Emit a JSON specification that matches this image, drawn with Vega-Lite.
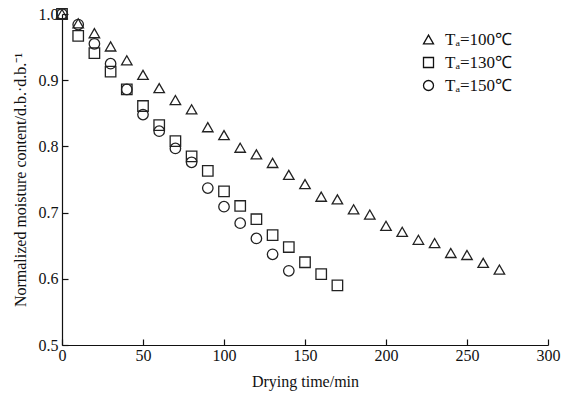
{
  "$schema": "https://vega.github.io/schema/vega-lite/v6.json",
  "width": 486,
  "height": 331,
  "autosize": {"type": "none"},
  "padding": {"left": 62, "top": 14, "right": 16, "bottom": 55},
  "background": "white",
  "config": {
    "view": {"stroke": null},
    "font": "Liberation Serif",
    "axis": {"grid": false, "domainColor": "#111", "tickColor": "#111", "labelColor": "#111", "titleColor": "#111", "labelFont": "Liberation Serif", "titleFont": "Liberation Serif", "labelFontSize": 16, "titleFontSize": 16, "titleFontWeight": "normal", "domainWidth": 1.2, "tickWidth": 1.2}
  },
  "data": {"values": [
    {"t": 0, "m": 1.0, "s": "Tₐ=100℃"},
    {"t": 10, "m": 0.986, "s": "Tₐ=100℃"},
    {"t": 20, "m": 0.971, "s": "Tₐ=100℃"},
    {"t": 30, "m": 0.951, "s": "Tₐ=100℃"},
    {"t": 40, "m": 0.930, "s": "Tₐ=100℃"},
    {"t": 50, "m": 0.908, "s": "Tₐ=100℃"},
    {"t": 60, "m": 0.888, "s": "Tₐ=100℃"},
    {"t": 70, "m": 0.870, "s": "Tₐ=100℃"},
    {"t": 80, "m": 0.856, "s": "Tₐ=100℃"},
    {"t": 90, "m": 0.829, "s": "Tₐ=100℃"},
    {"t": 100, "m": 0.817, "s": "Tₐ=100℃"},
    {"t": 110, "m": 0.798, "s": "Tₐ=100℃"},
    {"t": 120, "m": 0.788, "s": "Tₐ=100℃"},
    {"t": 130, "m": 0.775, "s": "Tₐ=100℃"},
    {"t": 140, "m": 0.757, "s": "Tₐ=100℃"},
    {"t": 150, "m": 0.743, "s": "Tₐ=100℃"},
    {"t": 160, "m": 0.724, "s": "Tₐ=100℃"},
    {"t": 170, "m": 0.720, "s": "Tₐ=100℃"},
    {"t": 180, "m": 0.705, "s": "Tₐ=100℃"},
    {"t": 190, "m": 0.697, "s": "Tₐ=100℃"},
    {"t": 200, "m": 0.680, "s": "Tₐ=100℃"},
    {"t": 210, "m": 0.671, "s": "Tₐ=100℃"},
    {"t": 220, "m": 0.659, "s": "Tₐ=100℃"},
    {"t": 230, "m": 0.654, "s": "Tₐ=100℃"},
    {"t": 240, "m": 0.639, "s": "Tₐ=100℃"},
    {"t": 250, "m": 0.636, "s": "Tₐ=100℃"},
    {"t": 260, "m": 0.624, "s": "Tₐ=100℃"},
    {"t": 270, "m": 0.614, "s": "Tₐ=100℃"},
    {"t": 0, "m": 1.0, "s": "Tₐ=130℃"},
    {"t": 10, "m": 0.967, "s": "Tₐ=130℃"},
    {"t": 20, "m": 0.941, "s": "Tₐ=130℃"},
    {"t": 30, "m": 0.913, "s": "Tₐ=130℃"},
    {"t": 40, "m": 0.886, "s": "Tₐ=130℃"},
    {"t": 50, "m": 0.861, "s": "Tₐ=130℃"},
    {"t": 60, "m": 0.832, "s": "Tₐ=130℃"},
    {"t": 70, "m": 0.808, "s": "Tₐ=130℃"},
    {"t": 80, "m": 0.785, "s": "Tₐ=130℃"},
    {"t": 90, "m": 0.763, "s": "Tₐ=130℃"},
    {"t": 100, "m": 0.732, "s": "Tₐ=130℃"},
    {"t": 110, "m": 0.710, "s": "Tₐ=130℃"},
    {"t": 120, "m": 0.690, "s": "Tₐ=130℃"},
    {"t": 130, "m": 0.666, "s": "Tₐ=130℃"},
    {"t": 140, "m": 0.648, "s": "Tₐ=130℃"},
    {"t": 150, "m": 0.625, "s": "Tₐ=130℃"},
    {"t": 160, "m": 0.607, "s": "Tₐ=130℃"},
    {"t": 170, "m": 0.590, "s": "Tₐ=130℃"},
    {"t": 0, "m": 1.0, "s": "Tₐ=150℃"},
    {"t": 10, "m": 0.984, "s": "Tₐ=150℃"},
    {"t": 20, "m": 0.955, "s": "Tₐ=150℃"},
    {"t": 30, "m": 0.925, "s": "Tₐ=150℃"},
    {"t": 40, "m": 0.886, "s": "Tₐ=150℃"},
    {"t": 50, "m": 0.848, "s": "Tₐ=150℃"},
    {"t": 60, "m": 0.823, "s": "Tₐ=150℃"},
    {"t": 70, "m": 0.797, "s": "Tₐ=150℃"},
    {"t": 80, "m": 0.776, "s": "Tₐ=150℃"},
    {"t": 90, "m": 0.737, "s": "Tₐ=150℃"},
    {"t": 100, "m": 0.709, "s": "Tₐ=150℃"},
    {"t": 110, "m": 0.684, "s": "Tₐ=150℃"},
    {"t": 120, "m": 0.661, "s": "Tₐ=150℃"},
    {"t": 130, "m": 0.637, "s": "Tₐ=150℃"},
    {"t": 140, "m": 0.612, "s": "Tₐ=150℃"}
  ]},
  "mark": {"type": "point", "filled": false, "strokeWidth": 1.3, "opacity": 1},
  "encoding": {
    "x": {"field": "t", "type": "quantitative", "scale": {"domain": [0, 300], "nice": false, "zero": true},
      "axis": {"values": [0, 50, 100, 150, 200, 250, 300], "title": "Drying time/min", "tickSize": -6, "labelPadding": 8, "titlePadding": 10, "labelFlush": false}},
    "y": {"field": "m", "type": "quantitative", "scale": {"domain": [0.5, 1.0], "nice": false, "zero": false},
      "axis": {"values": [0.5, 0.6, 0.7, 0.8, 0.9, 1.0], "format": ".1f", "title": "Normalized moisture content/d.b.·d.b.⁻¹", "tickSize": -6, "labelPadding": 10, "titlePadding": 10, "labelFlush": false}},
    "shape": {"field": "s", "type": "nominal",
      "scale": {"domain": ["Tₐ=100℃", "Tₐ=130℃", "Tₐ=150℃"], "range": ["triangle-up", "square", "circle"]},
      "legend": {"title": null, "orient": "none", "legendX": 358, "legendY": 17, "labelFont": "Liberation Serif", "labelFontSize": 17, "labelColor": "#111", "symbolStrokeColor": "#111", "symbolStrokeWidth": 1.3, "symbolSize": 100, "rowPadding": 5, "labelOffset": 8}},
    "color": {"value": "#222"},
    "size": {"value": 110}
  }
}
